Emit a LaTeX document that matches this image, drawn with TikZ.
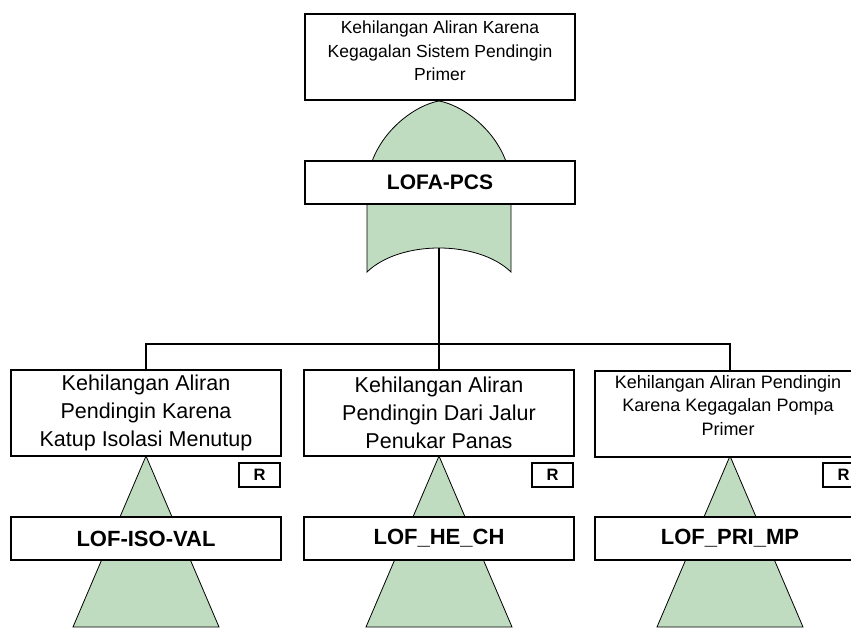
\documentclass[tikz,border=0pt]{standalone}
\usepackage{fontspec}
\setmainfont{Liberation Sans}
\definecolor{gatefill}{RGB}{192,220,192}
\begin{document}
\begin{tikzpicture}[x=1pt,y=-1pt,
 box/.style={draw,line width=1.4pt,fill=white,align=center,inner sep=0pt},
 ev/.style={box,minimum width=270pt,minimum height=86pt},
 txt/.style={align=center,inner sep=0pt,anchor=north},
 lab/.style={box,minimum width=270pt,minimum height=43pt,font=\fontsize{22}{26}\selectfont\bfseries},
 rbox/.style={box,minimum width=41pt,minimum height=24pt,font=\fontsize{16.5}{18}\selectfont\bfseries},
 gate/.style={draw,line width=0.8pt,fill=gatefill},
 conn/.style={line width=1.4pt}]
\useasboundingbox (0,0) rectangle (851,628);
\clip (0,0) rectangle (851,628);

% top event
\node[ev] (top) at (440,57) {};
\node[txt,font=\fontsize{17.5}{23.5}\selectfont] (toptxt) at (440,21) {Kehilangan Aliran Karena\\Kegagalan Sistem Pendingin\\Primer};

% OR gate
\path[gate] (439,101) .. controls (411,106) and (368,140) .. (367,188) -- (367,272)
  .. controls (400,240) and (478,240) .. (511,272) -- (511,188)
  .. controls (510,140) and (467,106) .. (439,101) -- cycle;
\node[lab,font=\fontsize{21}{25}\selectfont\bfseries] (gl) at (440,182.5) {LOFA-PCS};
\coordinate (gb) at (439,248);
\coordinate (j) at (439,344);

% transfer triangles
\path[gate] (146,456) -- (219,627) -- (73,627) -- cycle;
\path[gate] (439,456) -- (512,627) -- (366,627) -- cycle;
\path[gate] (730,456) -- (803,627) -- (657,627) -- cycle;

% lower events
\node[ev,font=\fontsize{21.5}{28}\selectfont] (b1) at (146,413) {Kehilangan Aliran\\Pendingin Karena\\Katup Isolasi Menutup};
\node[ev,font=\fontsize{21.5}{28}\selectfont] (b2) at (439,413) {Kehilangan Aliran\\Pendingin Dari Jalur\\Penukar Panas};
\node[ev] (b3) at (730,414) {};
\node[txt,font=\fontsize{18}{23.5}\selectfont] (b3txt) at (728,375) {Kehilangan Aliran Pendingin\\Karena Kegagalan Pompa\\Primer};

\node[rbox] (r1) at (259.5,475) {R};
\node[rbox] (r2) at (552.5,475) {R};
\node[rbox] (r3) at (843.5,475) {R};

\node[lab] (l1) at (146,538.5) {LOF-ISO-VAL};
\node[lab] (l2) at (439,538.5) {LOF\_HE\_CH};
\node[lab] (l3) at (730,538.5) {LOF\_PRI\_MP};

% connectors
\draw[conn] (gb) -- (j);
\draw[conn] (b1.north) |- (j) -| (b3.north);
\draw[conn] (j) -- (b2.north);
\end{tikzpicture}
\end{document}
